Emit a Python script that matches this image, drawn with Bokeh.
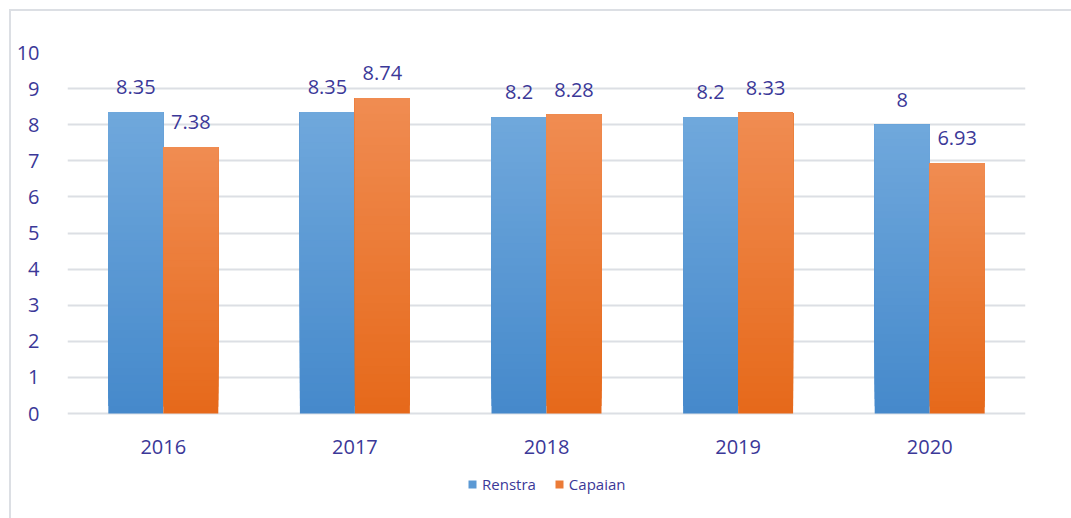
from bokeh.plotting import figure
from bokeh.models import (ColumnDataSource, FactorRange, Range1d, FixedTicker,
                          Legend, LegendItem, LabelSet, InlineStyleSheet)
from bokeh.transform import dodge
from bokeh.core.properties import value
from bokeh.embed import file_html
from bokeh.resources import INLINE

years = ["2016", "2017", "2018", "2019", "2020"]
renstra = [8.35, 8.35, 8.2, 8.2, 8.0]
capaian = [7.38, 8.74, 8.28, 8.33, 6.93]
y_ticks = [0, 1, 2, 3, 4, 5, 6, 7, 8, 9, 10]

FONT = "Open Sans"
TXT = "#3b3898"
BAR_W = 0.287
N_SEG = 40
Y_LOW = -105 / 36.1  # room below zero for year labels and legend (layout only)

p = figure(width=1071, height=518, x_range=FactorRange(*years, range_padding=0),
           y_range=Range1d(Y_LOW, 10), output_backend="svg", toolbar_location=None,
           min_border_left=67, min_border_right=46, min_border_top=52, min_border_bottom=0)
p.x_range.factor_padding = 0
p.background_fill_color = "white"
p.border_fill_color = "white"
p.outline_line_color = None


def hex2rgb(h):
    h = h.lstrip("#")
    return [int(h[i:i + 2], 16) for i in (0, 2, 4)]


def mix(c0, c1, t):
    a, b = hex2rgb(c0), hex2rgb(c1)
    return "#%02x%02x%02x" % tuple(int(round(a[k] + (b[k] - a[k]) * t)) for k in range(3))


def gradient_source(values, bottom_col, top_col, n=N_SEG):
    # each segment spans from its level up to the bar top; later segments cover earlier ones
    xs, bots, tops, cols = [], [], [], []
    for yr, v in zip(years, values):
        for i in range(n):
            xs.append(yr)
            bots.append(v * i / n)
            tops.append(v)
            cols.append(mix(bottom_col, top_col, (i + 0.5) / n))
    return ColumnDataSource(dict(x=xs, bottom=bots, top=tops, color=cols))


blue_src = gradient_source(renstra, "#4589cb", "#70a8dc")
orange_src = gradient_source(capaian, "#e6691a", "#f08c52")

r_blue = p.vbar(x=dodge("x", -BAR_W / 2, range=p.x_range), bottom="bottom", top="top",
                width=BAR_W, fill_color="color", line_color=None, source=blue_src)
r_orange = p.vbar(x=dodge("x", BAR_W / 2, range=p.x_range), bottom="bottom", top="top",
                  width=BAR_W, fill_color="color", line_color=None, source=orange_src)

lab_src = ColumnDataSource(dict(
    x=years, renstra=renstra, capaian=capaian,
    rtxt=[("%g" % v) for v in renstra], ctxt=[("%g" % v) for v in capaian]))
p.add_layout(LabelSet(x=dodge("x", -BAR_W / 2, range=p.x_range), y="renstra", text="rtxt",
                      source=lab_src, text_align="center", text_baseline="middle", y_offset=25,
                      text_font=value(FONT), text_font_size="20px", text_color=TXT))
p.add_layout(LabelSet(x=dodge("x", BAR_W / 2, range=p.x_range), y="capaian", text="ctxt",
                      source=lab_src, text_align="center", text_baseline="middle", y_offset=25,
                      text_font=value(FONT), text_font_size="20px", text_color=TXT))

p.yaxis.ticker = FixedTicker(ticks=y_ticks)
p.xaxis.fixed_location = 0
for ax in (p.xaxis[0], p.yaxis[0]):
    ax.axis_line_color = None
    ax.major_tick_line_color = None
    ax.minor_tick_line_color = None
    ax.major_label_text_font = FONT
    ax.major_label_text_font_size = "20px"
    ax.major_label_text_color = TXT
p.yaxis.major_label_standoff = 22
p.xaxis.major_label_standoff = 20

p.xgrid.grid_line_color = None
p.ygrid.grid_line_color = "#dcdfe4"
p.ygrid.grid_line_width = 2

legend = Legend(items=[LegendItem(label="Renstra", renderers=[r_blue], index=N_SEG // 2),
                       LegendItem(label="Capaian", renderers=[r_orange], index=N_SEG // 2)],
                location=(400, 24), orientation="horizontal",
                glyph_width=10, glyph_height=10, label_standoff=5, spacing=18,
                padding=0, margin=0, border_line_color=None, background_fill_alpha=0,
                label_text_font=FONT, label_text_font_size="15px", label_text_color=TXT,
                label_height=20)
p.add_layout(legend)

p.stylesheets = [InlineStyleSheet(css="""
:host::after {
  content: "";
  position: absolute;
  left: 9px; top: 9px; right: 0px; bottom: 0px;
  border-left: 2px solid #dcdfe4;
  border-top: 2px solid #dcdfe4;
  pointer-events: none;
}
""")]

open("out.html", "w").write(file_html(p, INLINE))
